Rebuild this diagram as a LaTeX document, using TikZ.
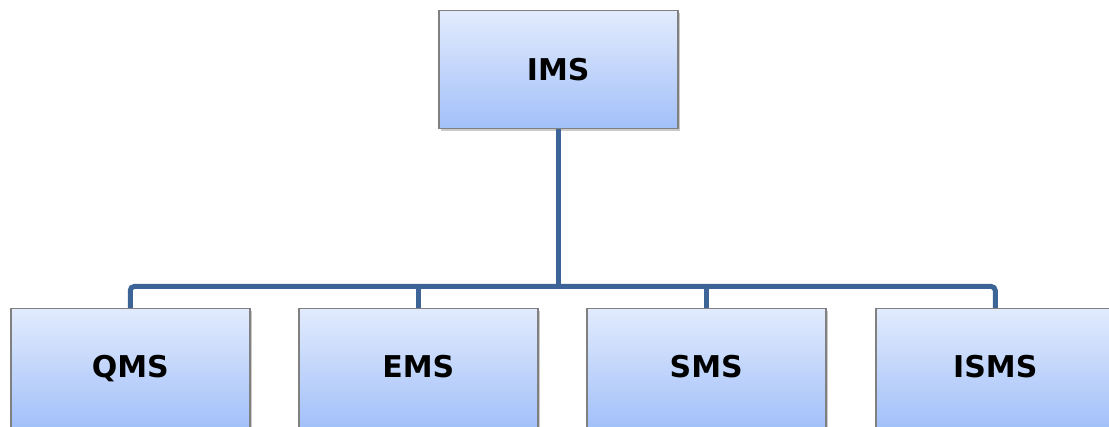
\documentclass[tikz,border=0pt]{standalone}
\usepackage{fontspec}
\setmainfont{DejaVu Sans}
\usetikzlibrary{shadows}
\definecolor{boxtop}{HTML}{E2EBFD}
\definecolor{boxbottom}{HTML}{A2C0F9}
\definecolor{tallbottom}{HTML}{9DBDF9}
\definecolor{boxedge}{HTML}{808080}
\definecolor{linkblue}{HTML}{3D6496}
\tikzset{
  unitbox/.style={draw=boxedge, line width=1.5pt, top color=boxtop, bottom color=boxbottom,
    minimum width=239pt, minimum height=118pt, inner sep=0pt, anchor=north west,
    text height=21pt, text depth=0pt,
    drop shadow={shadow xshift=2pt, shadow yshift=-2pt, opacity=0.35, fill=black!60},
    font=\fontsize{30}{34}\selectfont\bfseries},
  tallbox/.style={unitbox, minimum height=128pt, bottom color=tallbottom},
  boxlabel/.style={font=\fontsize{30}{34}\selectfont\bfseries, text height=21pt,
    text depth=0pt, inner sep=0pt}
}
\tikzset{link/.style={draw=linkblue, line width=5pt, rounded corners=4pt}}
\begin{document}
\begin{tikzpicture}[x=1pt, y=-1pt]
  \useasboundingbox (0,0) rectangle (1109,427);
  \clip (0,0) rectangle (1109,427);
  % boxes: the root and its four subsystems
  \node[unitbox] (ims) at (438,10) {IMS};
  \node[tallbox] (qms) at (10,308) {};
  \node[tallbox] (ems) at (298,308) {};
  \node[tallbox] (sms) at (586,308) {};
  \node[tallbox] (isms) at (875,308) {};
  % labels of the subsystem boxes, centred on their visible part
  \node[boxlabel] (qmst) at ([yshift=-59pt]qms.north) {QMS};
  \node[boxlabel] (emst) at ([yshift=-59pt]ems.north) {EMS};
  \node[boxlabel] (smst) at ([yshift=-59pt]sms.north) {SMS};
  \node[boxlabel] (ismst) at ([yshift=-59pt]isms.north) {ISMS};
  % connectors
  \coordinate (bus) at ([yshift=-157pt]ims.south);
  \draw[link] (qms.north) -- (qms.north |- bus) -| (isms.north);
  \draw[link] (ims.south) -- (bus);
  \draw[link] (ems.north) -- (ems.north |- bus);
  \draw[link] (sms.north) -- (sms.north |- bus);
\end{tikzpicture}
\end{document}
